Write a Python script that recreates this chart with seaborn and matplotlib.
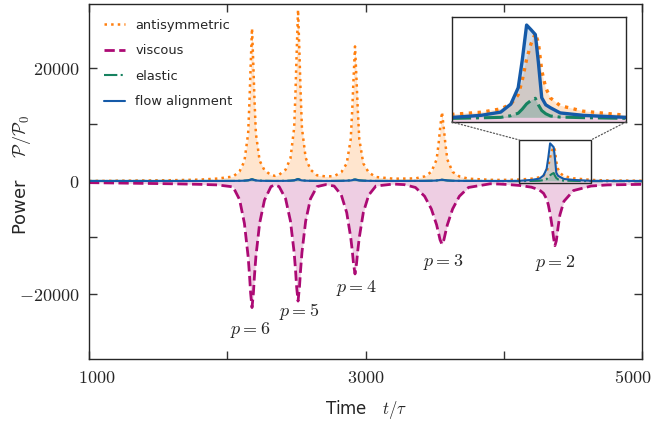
import matplotlib
matplotlib.use("Agg")
import matplotlib.pyplot as plt
import matplotlib.transforms as mtransforms
import seaborn as sns
import numpy as np
from matplotlib.patches import Rectangle, ConnectionPatch

# ---------------- data ----------------
time = [1000, 1300, 1600, 1800, 1929, 2042, 2089, 2124, 2151, 2161,
        2169, 2179, 2189, 2197, 2207, 2234, 2269, 2316, 2345, 2375,
        2422, 2457, 2484, 2494, 2502, 2512, 2522, 2530, 2540, 2567,
        2602, 2649, 2712, 2773, 2825, 2864, 2893, 2904, 2913, 2924,
        2935, 2944, 2955, 2984, 3023, 3075, 3200, 3280, 3361, 3427,
        3476, 3514, 3528, 3539, 3553, 3567, 3578, 3592, 3630, 3679,
        3745, 3903, 3970, 4040, 4115, 4200, 4258, 4288, 4310, 4322,
        4335, 4348, 4361, 4370, 4380, 4392, 4406, 4435, 4504, 4631,
        4750, 5000]

antisymmetric = [0, 60, 130, 230, 420, 780, 1700, 3500, 8400, 14300,
                 20250, 27000, 20250, 14300, 8400, 3600, 1900, 1050, 900, 1100,
                 2000, 4000, 9400, 16050, 22700, 30300, 22700, 16050, 9400, 4100,
                 2000, 1000, 800, 850, 1550, 3100, 7380, 12600, 17850, 23800,
                 17850, 12600, 7380, 3100, 1500, 700, 400, 420, 450, 800,
                 1600, 3780, 6470, 9150, 12200, 9150, 6470, 3780, 1600, 800,
                 400, 200, 180, 200, 250, 400, 640, 980, 1650, 2680,
                 4200, 5300, 6050, 5400, 3400, 2150, 1420, 870, 470, 180,
                 90, 40]

viscous = [-300, -400, -500, -600, -700, -1050, -3300, -7500, -13400, -16700,
           -19850, -22400, -19850, -16700, -13400, -7500, -3400, -1000, -700, -1000,
           -3150, -7100, -12700, -15870, -18830, -21250, -18830, -15870, -12700, -7100,
           -3150, -1000, -650, -900, -2500, -5600, -10000, -12300, -14600, -16450,
           -14600, -12300, -10000, -5600, -2500, -900, -550, -650, -1150, -2700,
           -4950, -7750, -9200, -10400, -11200, -10400, -9200, -7750, -4950, -2700,
           -1150, -500, -550, -650, -800, -1100, -1600, -2200, -3200, -4200,
           -5800, -7800, -10200, -11450, -10600, -8300, -6000, -3600, -1700, -900,
           -700, -600]

elastic = [0, 0, 0, 0, 0, 10, 30, 60, 120, 180,
           250, 320, 250, 180, 120, 60, 30, 10, 0, 10,
           30, 60, 120, 200, 280, 350, 280, 200, 120, 60,
           30, 10, 0, 10, 30, 60, 110, 170, 230, 280,
           230, 170, 110, 60, 30, 10, 0, 0, 10, 20,
           40, 90, 140, 180, 220, 180, 140, 90, 40, 20,
           10, 0, -20, -40, -40, 0, 30, 150, 330, 620,
           1000, 1240, 1400, 930, 520, 290, 130, 50, 10, -40,
           -40, -40]

flow_alignment = [0, 0, 0, 0, 0, 10, 20, 50, 100, 160,
                  220, 280, 200, 140, 90, 40, 20, 10, 0, 10,
                  20, 50, 100, 170, 240, 300, 220, 160, 100, 50,
                  20, 10, 0, 10, 20, 50, 90, 140, 190, 240,
                  180, 130, 90, 50, 20, 10, 0, 0, 10, 20,
                  40, 80, 130, 170, 210, 160, 120, 80, 40, 20,
                  10, 0, 0, 10, 30, 180, 410, 980, 2160, 4120,
                  6650, 6320, 5970, 3990, 1440, 930, 720, 350, 175, 30,
                  10, 0]

series_names = ["antisymmetric", "viscous", "elastic", "flow alignment"]

x_ticks = [1000, 2000, 3000, 4000, 5000]
x_tick_labels = ["1000", "", "3000", "", "5000"]
y_ticks = [-20000, -10000, 0, 10000, 20000]
y_tick_labels = ["-20000", "", "0", "", "20000"]

p_labels = ["$p = 6$", "$p = 5$", "$p = 4$", "$p = 3$", "$p = 2$"]
p_label_time = [2168, 2519, 2936, 3561, 4374]
p_label_power = [-26400, -23100, -19000, -14400, -14500]

inset_xlim = (4112, 4631)
inset_ylim = (-300, 7250)

# ---------------- style ----------------
sns.set_theme(style="ticks")
plt.rcParams["font.family"] = ["DejaVu Sans"]
plt.rcParams["mathtext.fontset"] = "cm"

c_anti = "#ff7f0e"
c_visc = "#ac0a74"
c_elas = "#178260"
c_flow = "#155aa8"
colors = [c_anti, c_visc, c_elas, c_flow]
styles = [":", "--", "-.", "-"]
values = [antisymmetric, viscous, elastic, flow_alignment]

fig = plt.figure(figsize=(6.54, 4.28), dpi=100)
ax = fig.add_axes([0.1361, 0.1612, 0.8456, 0.8294])

t = np.array(time)
lws = [1.8, 2.0, 1.5, 1.5]
for name, v, c, ls, lw in zip(series_names, values, colors, styles, lws):
    v = np.array(v)
    ax.fill_between(t, 0, v, color=c, alpha=0.2, linewidth=0)
    sns.lineplot(x=t, y=v, ax=ax, color=c, linestyle=ls, linewidth=lw,
                 label=name, sort=False, estimator=None)

ax.set_xlim(1000, 5000)
ax.set_ylim(-31500, 31300)
ax.set_xticks(x_ticks)
ax.set_xticklabels(["$%s$" % s if s else "" for s in x_tick_labels])
ax.set_yticks(y_ticks)
ax.set_yticklabels(["$%s$" % s if s else "" for s in y_tick_labels])
ax.tick_params(direction="in", top=True, right=True, length=6, width=1,
               labelsize=13, pad=7, color="0.2")
for sp in ax.spines.values():
    sp.set_linewidth(1.0)
    sp.set_color("0.15")

# nudge the outermost x tick labels inward (as in the reference)
xlabels = ax.get_xticklabels()
shift_px = {0: 8, 4: -9}
for i, dx in shift_px.items():
    lab = xlabels[i]
    lab.set_transform(lab.get_transform() +
                      mtransforms.ScaledTranslation(dx / 100, 0, fig.dpi_scale_trans))

ax.set_xlabel(r"Time   $t/\tau$", fontsize=12, labelpad=8)
ax.set_ylabel(r"Power    $\mathcal{P}/\mathcal{P}_0$", fontsize=13)
ax.yaxis.set_label_coords(-0.102, 0.52)

for lab, xt, yp in zip(p_labels, p_label_time, p_label_power):
    ax.text(xt, yp, lab, fontsize=13, ha="center", va="center")

leg = ax.legend(loc="upper left", frameon=False, fontsize=9.4,
                handlelength=1.6, labelspacing=0.95, borderaxespad=0.75)

# ---------------- inset ----------------
axins = fig.add_axes([0.6907, 0.7150, 0.2665, 0.2460])
ilws = [2.4, 2.4, 2.2, 2.4]
for v, c, ls, lw in zip(values, colors, styles, ilws):
    v = np.array(v)
    axins.fill_between(t, 0, v, color=c, alpha=0.2, linewidth=0)
    sns.lineplot(x=t, y=v, ax=axins, color=c, linestyle=ls, linewidth=lw,
                 sort=False, estimator=None, legend=False)
axins.set_xlim(*inset_xlim)
axins.set_ylim(*inset_ylim)
axins.set_xticks([])
axins.set_yticks([])
axins.set_xlabel("")
axins.set_ylabel("")
for sp in axins.spines.values():
    sp.set_linewidth(1.0)
    sp.set_color("0.15")

x0, x1 = axins.get_xlim()
y0, y1 = axins.get_ylim()
ax.add_patch(Rectangle((x0, y0), x1 - x0, y1 - y0, fill=False,
                       edgecolor="0.15", linewidth=1.0, zorder=5))
for xa, xb in [(0, x0), (1, x1)]:
    con = ConnectionPatch(xyA=(xa, 0), coordsA=axins.transAxes,
                          xyB=(xb, y1), coordsB=ax.transData,
                          linestyle=":", color="0.35", linewidth=0.9)
    fig.add_artist(con)

fig.savefig("out.png", dpi=100)
